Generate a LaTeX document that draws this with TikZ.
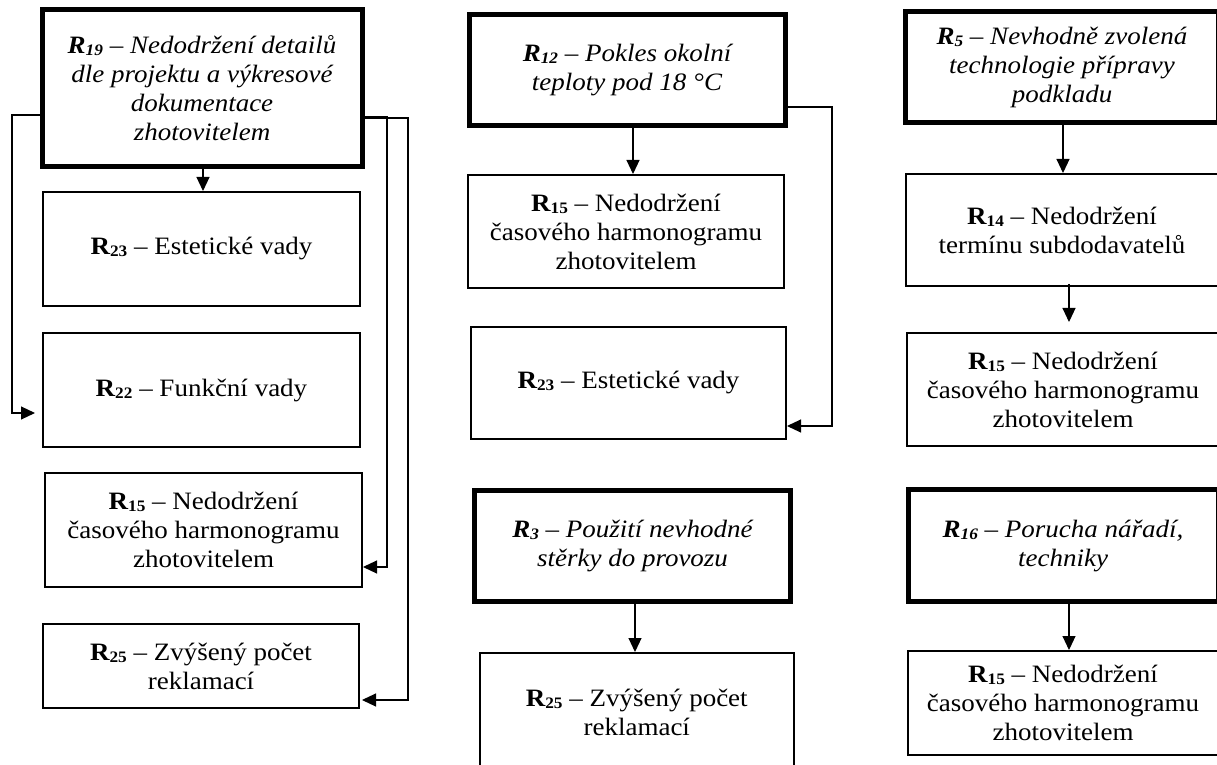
\documentclass[tikz,border=0pt]{standalone}
\usepackage{fontspec}
\setmainfont[FakeStretch=1.08]{Liberation Serif}
\usetikzlibrary{arrows.meta}
\newcommand{\Rb}[1]{\textbf{R\raisebox{-2pt}{\fontsize{16}{16}\selectfont #1}}}
\newcommand{\Ri}[1]{\textbf{\textit{R\raisebox{-2pt}{\fontsize{16}{16}\selectfont #1}}}}
\begin{document}
\begin{tikzpicture}[x=1pt,y=1pt,
  box/.style={draw=black, line width=2pt, align=center, inner sep=0pt,
    font=\fontsize{25}{29}\selectfont},
  thick box/.style={box, line width=5pt, font=\fontsize{25}{29}\selectfont\itshape},
  arr/.style={line width=1.1pt, -{Triangle[length=14pt,width=13pt]}},
]
\useasboundingbox (0,0) rectangle (1217,764);
\clip (0,0) rectangle (1217,764);
\fill[white] (0,0) rectangle (1217,764);

% left column
\node[thick box, minimum width=320pt, minimum height=157pt] (R19) at (202,675.5)
  {\Ri{19} – Nedodržení detailů\\dle projektu a výkresové\\dokumentace\\zhotovitelem};
\node[box, minimum width=317pt, minimum height=114pt] (R23L) at (201.5,515)
  {\Rb{23} – Estetické vady};
\node[box, minimum width=317pt, minimum height=114pt] (R22) at (201.5,374)
  {\Rb{22} – Funkční vady};
\node[box, minimum width=317pt, minimum height=114pt] (R15L) at (203.5,234)
  {\Rb{15} – Nedodržení\\časového harmonogramu\\zhotovitelem};
\node[box, minimum width=316pt, minimum height=84pt] (R25L) at (201,98)
  {\Rb{25} – Zvýšený počet\\reklamací};

% middle column
\node[thick box, minimum width=316pt, minimum height=111pt] (R12) at (627,693.5)
  {\Ri{12} – Pokles okolní\\teploty pod 18 °C};
\node[box, minimum width=316pt, minimum height=113pt] (R15M) at (626,532.5)
  {\Rb{15} – Nedodržení\\časového harmonogramu\\zhotovitelem};
\node[box, minimum width=315pt, minimum height=112pt] (R23M) at (628.5,381)
  {\Rb{23} – Estetické vady};
\node[thick box, minimum width=316pt, minimum height=111.5pt] (R3) at (632.5,218)
  {\Ri{3} – Použití nevhodné\\stěrky do provozu};
\node[box, minimum width=314.5pt, minimum height=118pt] (R25M) at (636.75,52)
  {\Rb{25} – Zvýšený počet\\reklamací};

% right column
\node[thick box, minimum width=313pt, minimum height=111pt] (R5) at (1062,696.5)
  {\Ri{5} – Nevhodně zvolená\\technologie přípravy\\podkladu};
\node[box, minimum width=313pt, minimum height=112pt] (R14) at (1062,534)
  {\Rb{14} – Nedodržení\\termínu subdodavatelů};
\node[box, minimum width=312pt, minimum height=113pt] (R15R1) at (1063,374.5)
  {\Rb{15} – Nedodržení\\časového harmonogramu\\zhotovitelem};
\node[thick box, minimum width=310pt, minimum height=112pt] (R16) at (1063,218.4)
  {\Ri{16} – Porucha nářadí,\\techniky};
\node[box, minimum width=310pt, minimum height=104pt] (R15R2) at (1063,61)
  {\Rb{15} – Nedodržení\\časového harmonogramu\\zhotovitelem};

% vertical arrows
\draw[arr] ([xshift=1pt]R19.south) -- ([xshift=1pt]R19.south |- R23L.north);
\draw[arr] ([xshift=6pt]R12.south) -- ([xshift=6pt]R12.south |- R15M.north);
\draw[arr] ([xshift=2.5pt]R3.south) -- ([xshift=2.5pt]R3.south |- R25M.north);
\draw[arr] ([xshift=1pt]R5.south) -- ([xshift=1pt]R5.south |- R14.north);
\draw[arr, shorten >=10pt] ([xshift=7pt,yshift=3pt]R14.south) -- ([xshift=7pt]R14.south |- R15R1.north);
\draw[arr] ([xshift=6pt]R16.south) -- ([xshift=6pt]R16.south |- R15R2.north);

% bent connectors
\draw[arr] ([yshift=-26.5pt]R19.west) -- ++(-27.5,0) |- ([yshift=-23pt,xshift=-7pt]R22.west);
\draw[arr] ([yshift=-28.5pt]R19.east) -- ++(22.5,0) |- ([yshift=-37pt]R15L.east);
\draw[arr] ([yshift=-29.5pt]R19.east) -- ++(43.5,0) |- ([yshift=-34pt,xshift=2pt]R25L.east);
\draw[arr] ([yshift=-36.5pt]R12.east) -- ++(44.5,0) |- ([yshift=-43pt]R23M.east);
\end{tikzpicture}
\end{document}
